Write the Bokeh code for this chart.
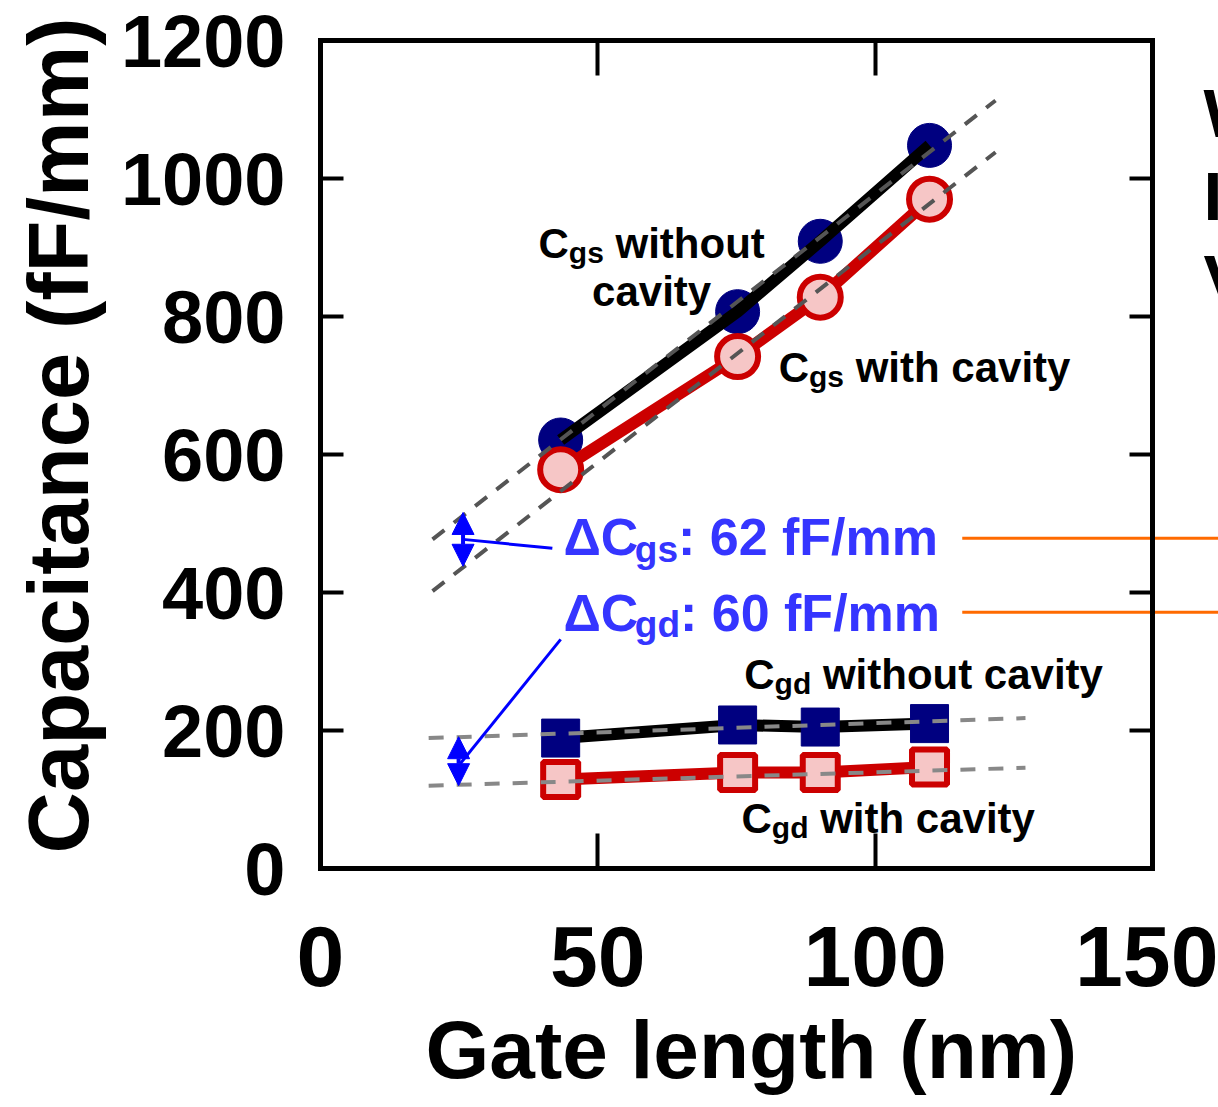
from bokeh.plotting import figure
from bokeh.models import LinearAxis, FixedTicker, Label, Arrow, NormalHead, Range1d, Span, Title
from bokeh.embed import file_html
from bokeh.resources import INLINE

# ---------------- data ----------------
gate_length = [43.3, 75.2, 90.1, 109.8]
cgs_without = [621, 807, 909, 1048]
cgs_with = [578, 742, 828, 970]
cgd_without = [189, 208, 205, 210]
cgd_with = [129, 139, 139, 147]

fit_x_cgs = [20.2, 121.7]
fit_cgs_without = [477, 1113]
fit_cgs_with = [402, 1038]
fit_x_cgd = [19.5, 127.1]
fit_cgd_without = [189, 218]
fit_cgd_with = [120, 146]

x_ticks = [0, 50, 100, 150]
y_ticks = [0, 200, 400, 600, 800, 1000, 1200]

X_MAX = 150
Y_MAX = 1200

FONT = "Liberation Sans"
NAVY = "#000080"
RED = "#CC0000"
PINK = "#F6C6C6"
BLUE_TXT = "#3535FF"
BLUE = "#0000FF"
ORANGE = "#FF6A00"

# the frame extends to the right edge of the page so the right-hand texts/lines can be drawn;
# the axes box itself ends at X_MAX (832 px of 898 px frame width)
p = figure(width=1218, height=1107, output_backend="svg", toolbar_location=None,
           x_range=Range1d(0, X_MAX * 898 / 832), y_range=Range1d(0, Y_MAX),
           min_border_left=320, min_border_right=0, min_border_top=40, min_border_bottom=237,
           background_fill_color="white", border_fill_color="white")
p.xgrid.grid_line_color = None
p.ygrid.grid_line_color = None
p.outline_line_color = None

def style_axis(ax, ticks, tick_in, label_size, standoff, show_labels=True):
    ax.ticker = FixedTicker(ticks=ticks)
    ax.axis_line_color = "black"
    ax.axis_line_width = 5
    ax.axis_line_cap = "square"
    ax.major_tick_in = tick_in
    ax.major_tick_out = 0
    ax.major_tick_line_width = 4
    ax.major_tick_line_color = "black"
    ax.minor_tick_line_color = None
    ax.major_label_text_font = FONT
    ax.major_label_text_font_style = "bold"
    ax.major_label_text_font_size = f"{label_size}px"
    ax.major_label_text_color = "black"
    ax.major_label_standoff = standoff
    if not show_labels:
        ax.major_label_overrides = {t: "" for t in ticks}

xax = p.xaxis[0]
yax = p.yaxis[0]
style_axis(xax, x_ticks, 35, 86, 58)
xax.bounds = (0, X_MAX)
style_axis(yax, y_ticks, 23, 74, 35)
top_ax = LinearAxis()
style_axis(top_ax, x_ticks, 35, 10, 0, show_labels=False)
top_ax.bounds = (0, X_MAX)
p.add_layout(top_ax, "above")

# axis titles (placed as side titles so that they can be positioned like the reference)
p.add_layout(Title(text="Gate length (nm)", align="left", offset=105, standoff=26,
                   text_font=FONT, text_font_size="82px", text_font_style="bold",
                   text_color="black"), "below")
p.add_layout(Title(text="Capacitance (fF/mm)", align="left", offset=15, standoff=20,
                   vertical_align="top",
                   text_font=FONT, text_font_size="85px", text_font_style="bold",
                   text_color="black"), "left")

# right border of the axes box with inward ticks
p.add_layout(Span(location=X_MAX, dimension="height", line_color="black", line_width=5))
tick_len = 23 * (X_MAX * 898 / 832) / 898
p.segment(x0=[X_MAX] * len(y_ticks), x1=[X_MAX - tick_len] * len(y_ticks), y0=y_ticks, y1=y_ticks,
          line_color="black", line_width=4)

# ---------------- series ----------------
p.scatter(gate_length, cgs_without, marker="circle", size=44, fill_color=NAVY, line_color=NAVY)
p.line(gate_length, cgs_without, line_color="black", line_width=12)
p.line(gate_length, cgs_with, line_color=RED, line_width=12)
p.scatter(gate_length, cgs_with, marker="circle", size=41, fill_color=PINK, line_color=RED, line_width=6)

p.line(gate_length, cgd_without, line_color="black", line_width=12)
p.scatter(gate_length, cgd_without, marker="square", size=38, fill_color=NAVY, line_color=NAVY)
p.line(gate_length, cgd_with, line_color=RED, line_width=12)
p.scatter(gate_length, cgd_with, marker="square", size=35, fill_color=PINK, line_color=RED, line_width=6)

p.line(fit_x_cgs, fit_cgs_without, line_color="#555555", line_width=4, line_dash="15 12")
p.line(fit_x_cgs, fit_cgs_with, line_color="#555555", line_width=4, line_dash="15 12")
p.line(fit_x_cgd, fit_cgd_without, line_color="#888888", line_width=4, line_dash="15 13")
p.line(fit_x_cgd, fit_cgd_with, line_color="#888888", line_width=4, line_dash="15 13")

# ---------------- annotations ----------------
def head():
    return NormalHead(size=22, fill_color=BLUE, line_color=BLUE)

p.add_layout(Arrow(start=head(), end=head(), x_start=25.7, y_start=438, x_end=25.7, y_end=516,
                   line_color=BLUE, line_width=4))
p.add_layout(Arrow(start=head(), end=head(), x_start=24.9, y_start=120, x_end=24.9, y_end=191,
                   line_color=BLUE, line_width=4))
p.segment(x0=[25.7, 25.2], y0=[477, 152], x1=[41.8, 43.3], y1=[464, 332], line_color=BLUE, line_width=3)

p.segment(x0=[115.7, 115.7], y0=[478.5, 371.5], x1=[161.9, 161.9], y1=[478.5, 371.5],
          line_color=ORANGE, line_width=3)

W = {' ': 278, 'C': 722, 'g': 611, 's': 556, 'd': 611, 'w': 778, 'i': 278, 't': 333,
     'h': 611, 'o': 611, 'u': 611, 'c': 556, 'a': 556, 'v': 556, 'y': 556, ':': 333,
     '6': 556, '2': 556, '0': 556, 'f': 333, 'F': 611, '/': 278, 'm': 889, '\u0394': 650}

def tw(s, size):
    return sum(W.get(ch, 556) for ch in s) * size / 1000.0

def rich(x, y, parts, color, align="left"):
    total = sum(tw(t, s) for t, s, d in parts)
    main = max(s for t, s, d in parts)
    lift = 0.35 * main
    off = 0.0 if align == "left" else -total / 2.0
    for t, s, d in parts:
        lead = len(t) - len(t.lstrip(' '))
        off += tw(' ' * lead, s)
        txt = t.strip(' ')
        p.add_layout(Label(x=x, y=y, x_offset=off, y_offset=d + lift, text=txt, text_font=FONT,
                           text_font_size=f"{s}px", text_font_style="bold", text_color=color,
                           text_baseline="alphabetic", text_align="left"))
        off += tw(txt, s)

M, S, DY = 42, 30, -9
rich(39.3, 885, [("C", M, 0), ("gs", S, DY), (" without", M, 0)], "black")
rich(59.7, 815, [("cavity", M, 0)], "black", align="center")
rich(82.6, 705, [("C", M, 0), ("gs", S, DY), (" with cavity", M, 0)], "black")
rich(76.4, 260, [("C", M, 0), ("gd", S, DY), (" without cavity", M, 0)], "black")
rich(75.9, 51, [("C", M, 0), ("gd", S, DY), (" with cavity", M, 0)], "black")

BM, BS, BDY = 52, 37, -12
rich(43.8, 454, [("\u0394C", BM, 0), ("gs", BS, BDY), (": 62 fF/mm", BM, 0)], BLUE_TXT)
rich(43.8, 344, [("\u0394C", BM, 0), ("gd", BS, BDY), (": 60 fF/mm", BM, 0)], BLUE_TXT)

for ch, yy in (("W", 1060), ("I", 940), ("V", 820)):
    p.add_layout(Label(x=159.2, y=yy, y_offset=0.35 * 68, text=ch, text_font=FONT,
                       text_font_size="68px", text_font_style="bold", text_color="black",
                       text_baseline="alphabetic", text_align="left"))

open("out.html", "w").write(file_html(p, INLINE))
